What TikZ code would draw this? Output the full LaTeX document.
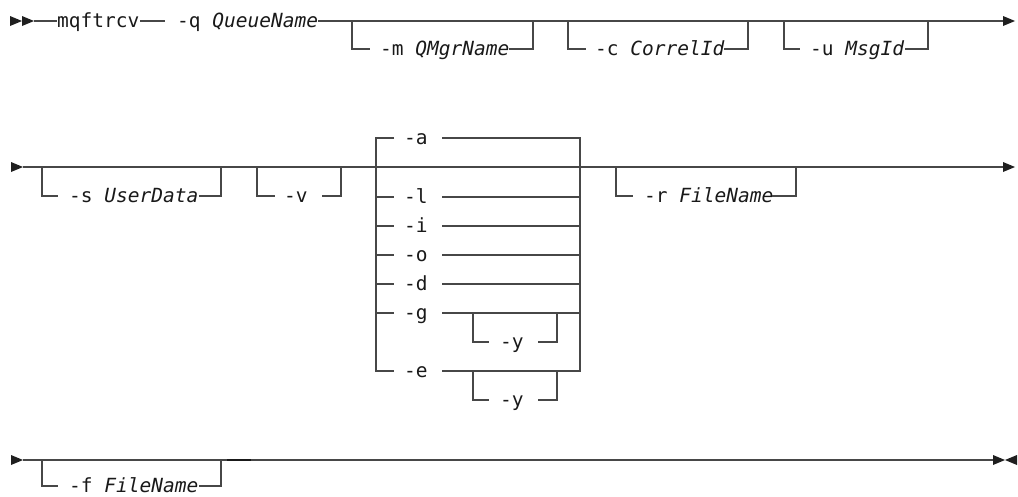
\documentclass[tikz,border=0pt]{standalone}
\usepackage{fontspec}
\newfontfamily\monof{DejaVu Sans Mono}
\begin{document}
\begin{tikzpicture}[x=1pt,y=-1pt,
  rail/.style={line width=1.4pt, draw=black!72},
  lbl/.style={anchor=base west, inner sep=0pt, text=black!90, font=\monof\fontsize{19.5}{20}\selectfont},
  tip/.style={fill=black!88, draw=none}]
\useasboundingbox (0,0) rectangle (1018,496);
% ---------- arrowheads ----------
\fill[tip] (10,16) -- (22,21) -- (10,26) -- cycle;
\fill[tip] (22,16) -- (34,21) -- (22,26) -- cycle;
\fill[tip] (1003,16) -- (1015,21) -- (1003,26) -- cycle;
\fill[tip] (11,162) -- (23,167) -- (11,172) -- cycle;
\fill[tip] (1003,162) -- (1015,167) -- (1003,172) -- cycle;
\fill[tip] (11,455) -- (23,460) -- (11,465) -- cycle;
\fill[tip] (993,455) -- (1005,460) -- (993,465) -- cycle;
\fill[tip] (1017,455) -- (1005,460) -- (1017,465) -- cycle;
% ---------- row 1 ----------
\node[lbl] (cmd) at (57,27.5) {mqftrcv};
\node[lbl] (q) at (177,27.5) {-q \textit{QueueName}};
\node[lbl] (m) at (380,55.5) {-m \textit{QMgrName}};
\node[lbl] (c) at (595,55.5) {-c \textit{CorrelId}};
\node[lbl] (u) at (810,55.5) {-u \textit{MsgId}};
\draw[rail] (34,21) -- (57,21);
\draw[rail] (140,21) -- (165,21);
\draw[rail] (318,21) -- (1003,21);
\draw[rail] (352,21) -- (352,49) -- (370,49);
\draw[rail] (509,49) -- (533,49) -- (533,21);
\draw[rail] (568,21) -- (568,49) -- (586,49);
\draw[rail] (724,49) -- (748,49) -- (748,21);
\draw[rail] (784,21) -- (784,49) -- (800,49);
\draw[rail] (905,49) -- (928,49) -- (928,21);
% ---------- row 2 ----------
\draw[rail] (23,167) -- (1003,167);
\node[lbl] (s) at (69,202.5) {-s \textit{UserData}};
\draw[rail] (42,167) -- (42,196) -- (58,196);
\draw[rail] (199,196) -- (221,196) -- (221,167);
\node[lbl] (v) at (284,202.5) {-v};
\draw[rail] (257,167) -- (257,196) -- (275,196);
\draw[rail] (322,196) -- (341,196) -- (341,167);
% choice block
\draw[rail] (394,138) -- (376,138) -- (376,371) -- (394,371);
\draw[rail] (442,138) -- (580,138) -- (580,371) -- (442,371);
\foreach \y/\t in {138/a,197/l,226/i,255/o,284/d,313/g,371/e}{
  \node[lbl] (opt\t) at (404,\y+6.5) {-\t};
}
\foreach \y in {197,226,255,284,313}{
  \draw[rail] (376,\y) -- (394,\y);
  \draw[rail] (442,\y) -- (580,\y);
}
\foreach \y/\n in {313/g,371/e}{
  \draw[rail] (473,\y) -- (473,\y+29) -- (489,\y+29);
  \draw[rail] (538,\y+29) -- (557,\y+29) -- (557,\y);
  \node[lbl] (y\n) at (500,\y+35.5) {-y};
}
\node[lbl] (r) at (644,202.5) {-r \textit{FileName}};
\draw[rail] (616,167) -- (616,196) -- (633,196);
\draw[rail] (772,196) -- (796,196) -- (796,167);
% ---------- row 3 ----------
\draw[rail] (23,460) -- (993,460);
\draw[line width=2pt, draw=black!90] (227,460) -- (251,460);
\node[lbl, text depth=0pt] (f) at (69,492) {-f \textit{FileName}};
\draw[rail] (42,460) -- (42,486) -- (58,486);
\draw[rail] (199,486) -- (221,486) -- (221,460);
\end{tikzpicture}
\end{document}
